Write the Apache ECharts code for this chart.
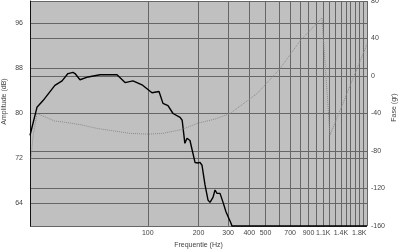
<!DOCTYPE html>
<html><head><meta charset="utf-8">
<script src="https://cdn.jsdelivr.net/npm/echarts@6/dist/echarts.min.js"></script>
<style>html,body{margin:0;padding:0;background:#fff}#c{width:400px;height:249px}</style>
</head><body><div id="c"></div>
<script>
const ampFreq = [20, 22.0, 23.9, 28.1, 31.0, 33.6, 36.0, 37.0, 39.6, 44.2, 52.1, 63.9, 65.7, 73.3, 81.7, 92.4, 105.9, 116.6, 123.1, 131.8, 141.2, 155.5, 160, 166, 171, 178, 190.7, 198.6, 204.2, 209.8, 218.6, 227.8, 234, 243.8, 250.6, 257.6, 268.4, 279.7, 291.4, 299.3, 311.8, 316, 2000];
const ampDb = [76.1, 81.1, 82.3, 85.0, 85.8, 87.1, 87.3, 87.1, 86.0, 86.5, 86.9, 86.9, 86.9, 85.5, 85.8, 85.1, 83.7, 83.9, 81.8, 81.4, 80.0, 79.3, 78.8, 74.7, 75.6, 75.2, 71.3, 71.2, 71.3, 70.8, 67.3, 64.6, 64.2, 65.1, 66.4, 65.8, 65.8, 64.2, 62.5, 62.3, 60.5, 60, 60];
const phaseFreq = [20.3, 20.8, 22, 28, 31.4, 40, 50, 78.5, 100, 123, 160, 196, 250, 308, 445, 609, 801, 1081, 1206, 2000];
const phaseDeg = [-88, -66, -40, -48, -49, -52, -55.9, -61.2, -62, -61.2, -57, -50.6, -46, -40, -18.8, 7.8, 37.5, 62, -63, 34];
const freqGrid = [100, 200, 300, 400, 500, 600, 700, 800, 900, 1000, 1100, 1200, 1300, 1400, 1500, 1600, 1700, 1800, 1900, 2000];
const freqLabels = [100, 200, 300, 400, 500, 700, 900, 1100, 1400, 1800];
const ampTicks = [64, 72, 80, 88, 96];

const font = 'Liberation Sans, Arial, sans-serif';
const txt = {fontSize: 7, color: '#444', fontFamily: font};
const gridLine = {show: true, lineStyle: {color: '#666', width: 1}};

const chart = echarts.init(document.getElementById('c'), null, {renderer: 'canvas'});
chart.setOption({
  animation: false,
  backgroundColor: '#fff',
  grid: {left: 30, right: 33, top: 1, bottom: 23, show: true, backgroundColor: '#c0c0c0', borderWidth: 0,
    containLabel: false, outerBoundsMode: 'none'},
  xAxis: {
    type: 'log', logBase: 10, min: 20, max: 2000,
    axisLine: {show: false},
    axisTick: {show: false, customValues: freqGrid},
    minorTick: {show: false}, minorSplitLine: {show: false},
    splitLine: gridLine,
    axisLabel: Object.assign({customValues: freqLabels, margin: 4,
      formatter: v => { const f = Math.round(v); return f >= 1000 ? (f / 1000) + 'K' : String(f); }}, txt),
    name: 'Frequentie (Hz)', nameLocation: 'middle', nameGap: 12,
    nameTextStyle: {fontSize: 7, color: '#444', fontFamily: font}
  },
  yAxis: [{
    type: 'value', min: 60, max: 100, position: 'left',
    axisLine: {show: true, lineStyle: {color: '#111', width: 1}},
    axisTick: {show: false, customValues: ampTicks},
    splitLine: gridLine,
    axisLabel: Object.assign({customValues: ampTicks, margin: 7}, txt),
    name: 'Amplitude (dB)', nameLocation: 'middle', nameGap: 22, nameRotate: 90, nameMoveOverlap: false,
    nameTextStyle: {fontSize: 7, color: '#444', fontFamily: font, padding: [0, 0, 0, 24]}
  }, {
    type: 'value', min: -160, max: 80, interval: 40, position: 'right',
    axisLine: {show: false}, axisTick: {show: false},
    splitLine: gridLine,
    axisLabel: Object.assign({margin: 4}, txt),
    name: 'Fase (gr)', nameLocation: 'middle', nameGap: 24, nameRotate: 90, nameMoveOverlap: false,
    nameTextStyle: {fontSize: 7, color: '#444', fontFamily: font, padding: [0, 0, 0, 12]}
  }],
  series: [{
    type: 'line', yAxisIndex: 0, showSymbol: false, clip: false,
    data: ampFreq.map((f, i) => [f, ampDb[i]]),
    lineStyle: {color: '#000', width: 1.4}
  }, {
    type: 'line', yAxisIndex: 1, showSymbol: false,
    data: phaseFreq.map((f, i) => [f, phaseDeg[i]]),
    lineStyle: {color: '#8c8c8c', width: 1, type: 'dotted'}
  }]
});
</script>
</body></html>
